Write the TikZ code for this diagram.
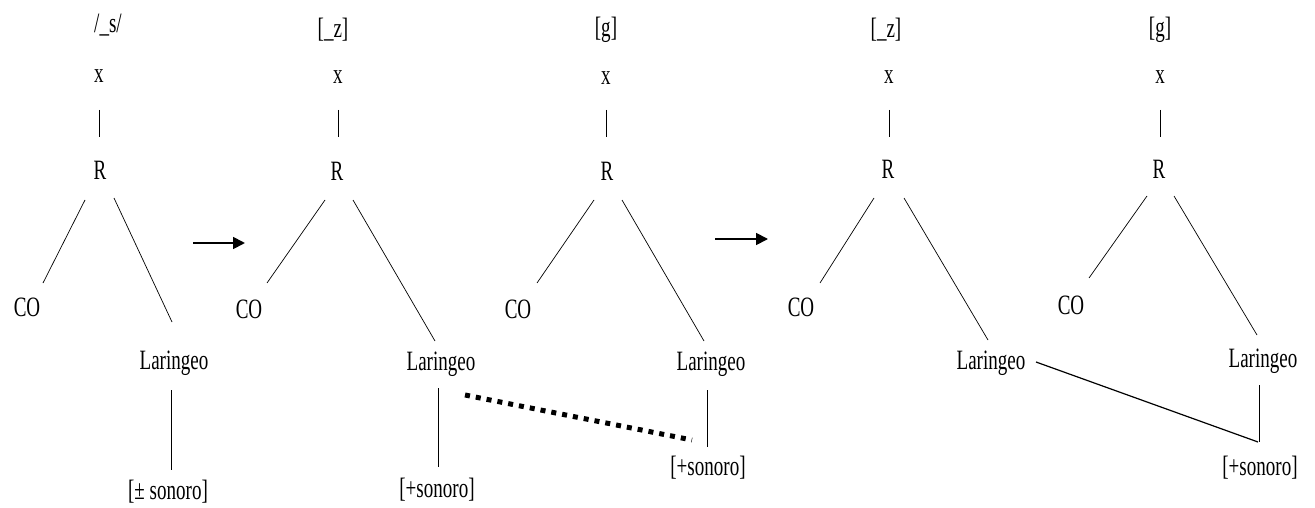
\documentclass[tikz,border=0pt]{standalone}
\usepackage{fontspec}
\setmainfont{Liberation Serif}[FakeStretch=0.68]
\usetikzlibrary{calc,arrows.meta}
\begin{document}
\begin{tikzpicture}[x=1pt,y=-1pt,
  lab/.style={inner sep=0pt,font=\fontsize{28}{32}\selectfont},
  ln/.style={line width=0.7pt},
  arr/.style={line width=1.8pt,-{Triangle[length=12pt,width=12pt]}},
  dots/.style={line width=5pt,dash pattern=on 5pt off 6pt},
  link/.style={line width=1.2pt}]
\useasboundingbox (0,0) rectangle (1315,508);
% tree 1
\node[lab] (top1) at (108,25) {/\_s/};
\node[lab] (x1) at (99,76) {x};
\node[lab] (R1) at (100,170) {R};
\node[lab] (CO1) at (27,307) {CO};
\node[lab] (Lar1) at (174,363) {Laringeo};
\node[lab] (Son1) at (168,492) {[± sonoro]};
\draw[ln] ($(x1)+(0,34)$) -- ($(R1)+(-1,-33)$);
\draw[ln] ($(R1)+(-15,30)$) -- ($(CO1)+(16,-24)$);
\draw[ln] ($(R1)+(14,28)$) -- ($(Lar1)+(-2,-41)$);
\draw[ln] ($(Lar1)+(-3,27)$) -- ($(Son1)+(3,-22)$);
% arrow 1
\coordinate (a1s) at (193,243);
\coordinate (a1e) at (245,243);
\draw[arr] (a1s) -- (a1e);
% tree 2
\node[lab] (top2) at (333,30) {[\_z]};
\node[lab] (x2) at (338,77) {x};
\node[lab] (R2) at (337,171) {R};
\node[lab] (CO2) at (249,309) {CO};
\node[lab] (Lar2) at (441,364) {Laringeo};
\node[lab] (Son2) at (437,490) {[+sonoro]};
\draw[ln] ($(x2)+(0,33)$) -- ($(R2)+(1,-34)$);
\draw[ln] ($(R2)+(-12,29)$) -- ($(CO2)+(18,-26)$);
\draw[ln] ($(R2)+(16,29)$) -- ($(Lar2)+(-6,-23)$);
\draw[ln] ($(Lar2)+(-3,24)$) -- ($(Son2)+(1,-23)$);
% tree 3
\node[lab] (top3) at (606,30) {[g]};
\node[lab] (x3) at (606,78) {x};
\node[lab] (R3) at (607,171) {R};
\node[lab] (CO3) at (518,309) {CO};
\node[lab] (Lar3) at (711,364) {Laringeo};
\node[lab] (Son3) at (708,468) {[+sonoro]};
\draw[ln] ($(x3)+(0,32)$) -- ($(R3)+(-1,-34)$);
\draw[ln] ($(R3)+(-13,29)$) -- ($(CO3)+(19,-26)$);
\draw[ln] ($(R3)+(15,29)$) -- ($(Lar3)+(-7,-23)$);
\draw[ln] ($(Lar3)+(-4,26)$) -- ($(Son3)+(-1,-21)$);
\draw[dots] ($(Lar2)+(24,31)$) -- ($(Son3)+(-16,-28)$);
% arrow 2
\coordinate (a2s) at (715,239);
\coordinate (a2e) at (768,239);
\draw[arr] (a2s) -- (a2e);
% tree 4
\node[lab] (top4) at (886,30) {[\_z]};
\node[lab] (x4) at (889,77) {x};
\node[lab] (R4) at (888,169) {R};
\node[lab] (CO4) at (801,307) {CO};
\node[lab] (Lar4) at (991,363) {Laringeo};
\draw[ln] ($(x4)+(0,33)$) -- ($(R4)+(1,-32)$);
\draw[ln] ($(R4)+(-14,29)$) -- ($(CO4)+(19,-24)$);
\draw[ln] ($(R4)+(16,29)$) -- ($(Lar4)+(-3,-23)$);
% tree 5
\node[lab] (top5) at (1160,30) {[g]};
\node[lab] (x5) at (1160,77) {x};
\node[lab] (R5) at (1159,169) {R};
\node[lab] (CO5) at (1071,305) {CO};
\node[lab] (Lar5) at (1263,361) {Laringeo};
\node[lab] (Son5) at (1260,468) {[+sonoro]};
\draw[ln] ($(x5)+(0,33)$) -- ($(R5)+(1,-32)$);
\draw[ln] ($(R5)+(-12,27)$) -- ($(CO5)+(18,-27)$);
\draw[ln] ($(R5)+(15,27)$) -- ($(Lar5)+(-6,-26)$);
\draw[ln] ($(Lar5)+(-4,24)$) -- ($(Son5)+(-1,-26)$);
\draw[link] ($(Lar4)+(45,-1)$) -- ($(Son5)+(-2,-26)$);
\end{tikzpicture}
\end{document}
